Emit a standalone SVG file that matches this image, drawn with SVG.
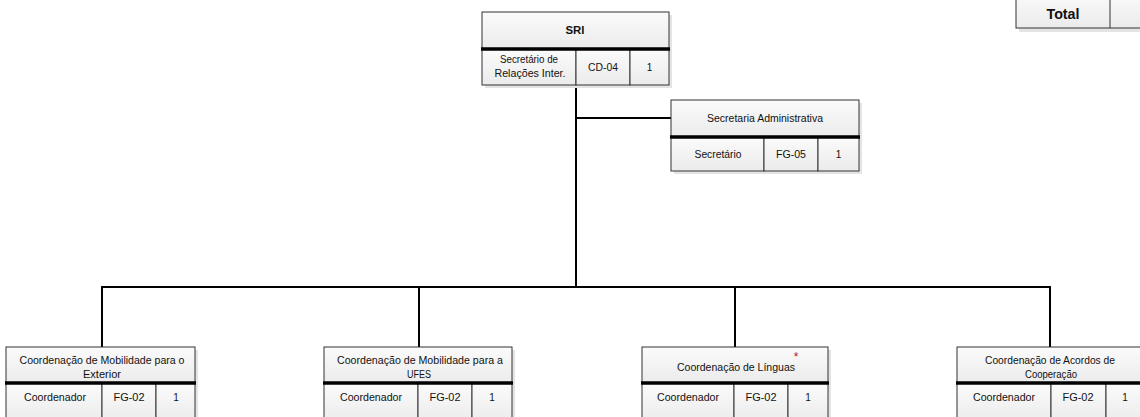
<svg xmlns="http://www.w3.org/2000/svg" width="1140" height="417" viewBox="0 0 1140 417">
<defs>
<linearGradient id="g" x1="0" y1="0" x2="0" y2="1">
<stop offset="0" stop-color="#fbfbfb"/>
<stop offset="1" stop-color="#ebebeb"/>
</linearGradient>
</defs>
<style>
.sh{fill:#e4e4e4}
.c{fill:url(#g);stroke:#333;stroke-width:1}
.th{stroke:#000;stroke-width:3.5}
.ln{stroke:#000;stroke-width:2;fill:none}
text{font-family:"Liberation Sans",Arial,sans-serif;font-size:10px;fill:#111;text-anchor:middle}
.b{font-weight:bold}
.ast{fill:#b02020;font-size:12px}
</style>
<rect width="1140" height="417" fill="#fff"/>
<g id="connectors">
<path class="ln" d="M576 85V287M576 118H671M102 287H1050M102 286V347M419 287V347M735 287V347M1050 286V347"/>
</g>
<g id="total">
<rect class="sh" x="1019" y="-5" width="130" height="37"/>
<rect class="c" x="1016" y="-8" width="130" height="36"/>
<line x1="1110" y1="-8" x2="1110" y2="28" stroke="#333"/>
<text class="b" x="1063" y="19" style="font-size:14px" textLength="33" lengthAdjust="spacingAndGlyphs">Total</text>
</g>
<g id="sri">
<rect class="sh" x="485" y="15" width="187" height="73"/>
<rect class="c" x="482" y="12" width="187" height="37"/>
<rect class="c" x="482" y="49" width="94" height="36"/>
<rect class="c" x="576" y="49" width="54" height="36"/>
<rect class="c" x="630" y="49" width="39" height="36"/>
<line class="th" x1="481" y1="49" x2="670" y2="49"/>
<text class="b" x="575" y="34" textLength="19" lengthAdjust="spacingAndGlyphs">SRI</text>
<text x="529" y="63" textLength="58" lengthAdjust="spacingAndGlyphs">Secretário de</text>
<text x="530" y="77" textLength="71" lengthAdjust="spacingAndGlyphs">Relações Inter.</text>
<text x="603" y="71" textLength="30" lengthAdjust="spacingAndGlyphs">CD-04</text>
<text x="649.5" y="71">1</text>
</g>
<g id="secretaria">
<rect class="sh" x="674" y="103" width="188" height="71"/>
<rect class="c" x="671" y="100" width="188" height="37"/>
<rect class="c" x="671" y="137" width="93" height="34"/>
<rect class="c" x="764" y="137" width="54" height="34"/>
<rect class="c" x="818" y="137" width="41" height="34"/>
<line class="th" x1="670" y1="137" x2="860" y2="137"/>
<text x="765" y="122" textLength="116" lengthAdjust="spacingAndGlyphs">Secretaria Administrativa</text>
<text x="718" y="158" textLength="47" lengthAdjust="spacingAndGlyphs">Secretário</text>
<text x="791" y="158" textLength="30" lengthAdjust="spacingAndGlyphs">FG-05</text>
<text x="838.5" y="158">1</text>
</g>
<g id="mob-exterior">
<rect class="sh" x="9" y="350" width="189" height="80"/>
<rect class="c" x="6" y="347" width="189" height="36"/>
<rect class="c" x="6" y="383" width="96" height="40"/>
<rect class="c" x="102" y="383" width="54" height="40"/>
<rect class="c" x="156" y="383" width="39" height="40"/>
<line class="th" x1="5" y1="383" x2="196" y2="383"/>
<text x="102" y="364" textLength="165" lengthAdjust="spacingAndGlyphs">Coordenação de Mobilidade para o</text>
<text x="102" y="378" textLength="38" lengthAdjust="spacingAndGlyphs">Exterior</text>
<text x="55" y="401" textLength="62" lengthAdjust="spacingAndGlyphs">Coordenador</text>
<text x="129" y="401" textLength="31" lengthAdjust="spacingAndGlyphs">FG-02</text>
<text x="176" y="401">1</text>
</g>
<g id="mob-ufes">
<rect class="sh" x="327" y="350" width="188" height="80"/>
<rect class="c" x="324" y="347" width="188" height="36"/>
<rect class="c" x="324" y="383" width="94" height="40"/>
<rect class="c" x="418" y="383" width="54" height="40"/>
<rect class="c" x="472" y="383" width="40" height="40"/>
<line class="th" x1="323" y1="383" x2="513" y2="383"/>
<text x="420" y="364" textLength="166" lengthAdjust="spacingAndGlyphs">Coordenação de Mobilidade para a</text>
<text x="419" y="378" textLength="24" lengthAdjust="spacingAndGlyphs">UFES</text>
<text x="371" y="401" textLength="62" lengthAdjust="spacingAndGlyphs">Coordenador</text>
<text x="445" y="401" textLength="31" lengthAdjust="spacingAndGlyphs">FG-02</text>
<text x="492" y="401">1</text>
</g>
<g id="linguas">
<rect class="sh" x="645" y="350" width="186" height="80"/>
<rect class="c" x="642" y="347" width="186" height="36"/>
<rect class="c" x="642" y="383" width="92" height="40"/>
<rect class="c" x="734" y="383" width="54" height="40"/>
<rect class="c" x="788" y="383" width="40" height="40"/>
<line class="th" x1="641" y1="383" x2="829" y2="383"/>
<text x="736" y="371" textLength="118" lengthAdjust="spacingAndGlyphs">Coordenação de Línguas</text>
<text class="ast" x="796" y="361">*</text>
<text x="688" y="401" textLength="62" lengthAdjust="spacingAndGlyphs">Coordenador</text>
<text x="761" y="401" textLength="31" lengthAdjust="spacingAndGlyphs">FG-02</text>
<text x="808" y="401">1</text>
</g>
<g id="acordos">
<rect class="sh" x="960" y="350" width="188" height="80"/>
<rect class="c" x="957" y="347" width="188" height="36"/>
<rect class="c" x="957" y="383" width="94" height="40"/>
<rect class="c" x="1051" y="383" width="55" height="40"/>
<rect class="c" x="1106" y="383" width="39" height="40"/>
<line class="th" x1="956" y1="383" x2="1146" y2="383"/>
<text x="1050" y="364" textLength="130" lengthAdjust="spacingAndGlyphs">Coordenação de Acordos de</text>
<text x="1051" y="378" textLength="52" lengthAdjust="spacingAndGlyphs">Cooperação</text>
<text x="1004" y="401" textLength="62" lengthAdjust="spacingAndGlyphs">Coordenador</text>
<text x="1078" y="401" textLength="31" lengthAdjust="spacingAndGlyphs">FG-02</text>
<text x="1125" y="401">1</text>
</g>
</svg>
